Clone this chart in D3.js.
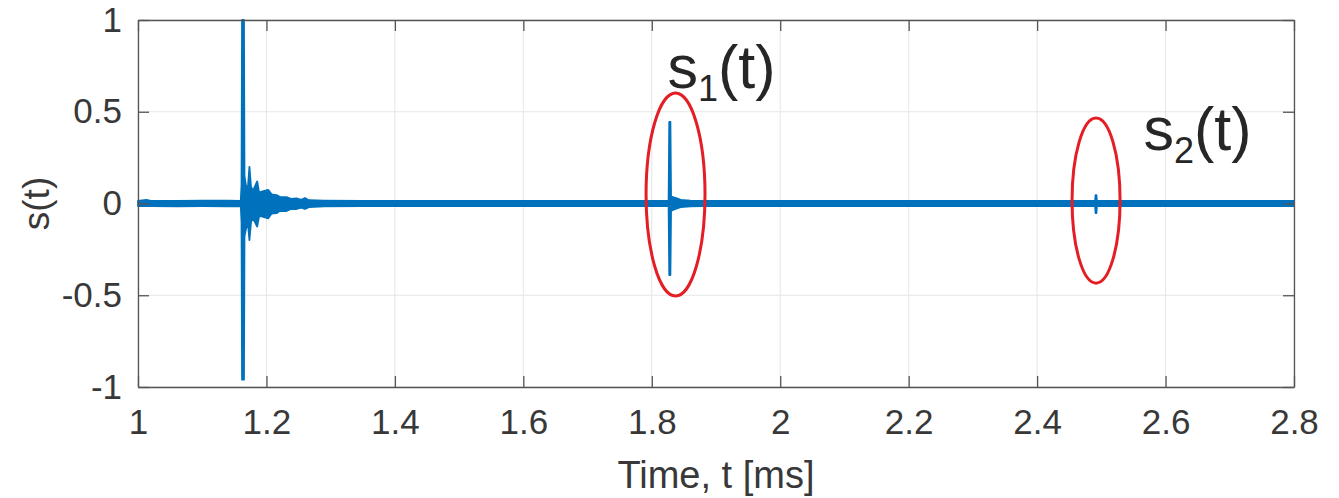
<!DOCTYPE html>
<html><head><meta charset="utf-8">
<script src="https://cdn.jsdelivr.net/npm/d3@7"></script>
<style>
html,body{margin:0;padding:0;background:#fff;}
svg{display:block;font-family:"Liberation Sans",Arial,Helvetica,sans-serif;}
</style></head>
<body><svg id="chart" width="1339" height="498"></svg>
<script>
// ---- data ----
const xTicks = [1, 1.2, 1.4, 1.6, 1.8, 2, 2.2, 2.4, 2.6, 2.8];
const xTickLabels = ["1","1.2","1.4","1.6","1.8","2","2.2","2.4","2.6","2.8"];
const yTicks = [-1, -0.5, 0, 0.5, 1];
const yTickLabels = ["-1","-0.5","0","0.5","1"];
// signal envelope: time (ms), upper and lower extent of s(t)
const sigT  = [1.000,1.013,1.020,1.060,1.100,1.140,1.1600,1.1612,1.1620,1.1650,1.1658,1.1680,1.1710,1.1735,1.1760,1.1790,1.1856,1.1885,1.1925,1.2027,1.2080,1.2157,1.2210,1.2313,1.2380,1.2469,1.2540,1.2600,1.2660,1.2900,1.3500,1.6000,1.8262,1.8272,1.8290,1.8300,1.8330,1.8380,1.8450,1.8600,1.8800,2.2000,2.4903,2.4910,2.4924,2.4931,2.8000];
const sigHi = [0.014,0.020,0.014,0.014,0.016,0.015,0.014,0.10,1.0,1.0,0.15,0.10,0.08,0.20,0.09,0.07,0.12,0.06,0.065,0.074,0.05,0.046,0.035,0.035,0.025,0.028,0.020,0.030,0.018,0.016,0.014,0.014,0.014,0.445,0.445,0.04,0.035,0.03,0.02,0.016,0.014,0.014,0.014,0.046,0.046,0.014,0.014];
const sigLo = [-0.014,-0.014,-0.014,-0.015,-0.014,-0.016,-0.014,-0.10,-0.96,-0.96,-0.18,-0.14,-0.10,-0.20,-0.10,-0.08,-0.126,-0.07,-0.07,-0.081,-0.055,-0.053,-0.04,-0.041,-0.03,-0.03,-0.022,-0.03,-0.02,-0.016,-0.014,-0.014,-0.014,-0.39,-0.39,-0.04,-0.035,-0.028,-0.02,-0.016,-0.014,-0.014,-0.014,-0.052,-0.052,-0.014,-0.014];
// annotations: ellipse centre (ms, value) and radii (ms, value)
const ellipseT  = [1.837, 2.4918];
const ellipseV  = [0.049, 0.016];
const ellipseRT = [0.0459, 0.0374];
const ellipseRV = [0.553, 0.45];
const labelNames = ["s", "s"];
const labelSubs  = ["1", "2"];
const labelT = [1.8245, 2.5655];
const labelV = [0.63, 0.29];

// ---- layout ----
const svg = d3.select("#chart");
const L = 138, R = 1294, T = 20, B = 387;
const x = d3.scaleLinear().domain([1, 2.8]).range([L, R]);
const y = d3.scaleLinear().domain([-1, 1]).range([B, T]);
const blue = "#0072BD", axisCol = "#555", textCol = "#383838", gridCol = "#e6e6e6";
const tickLen = 11;

// grid
svg.append("g").selectAll("line").data(xTicks).join("line")
  .attr("x1", d => x(d)).attr("x2", d => x(d)).attr("y1", T).attr("y2", B)
  .attr("stroke", gridCol).attr("stroke-width", 1);
svg.append("g").selectAll("line").data(yTicks).join("line")
  .attr("x1", L).attr("x2", R).attr("y1", d => y(d)).attr("y2", d => y(d))
  .attr("stroke", gridCol).attr("stroke-width", 1);

// signal
const sig = sigT.map((t, i) => ({t, hi: sigHi[i], lo: sigLo[i]}));
const area = d3.area().x(d => x(d.t)).y0(d => y(d.lo)).y1(d => y(d.hi));
svg.append("path").datum(sig).attr("d", area)
  .attr("fill", blue).attr("stroke", blue).attr("stroke-width", 1.8).attr("stroke-linejoin", "round");

// axes box & ticks
const xAxisB = d3.axisBottom(x).tickValues(xTicks).tickFormat((d, i) => xTickLabels[i]).tickSizeInner(-tickLen).tickSizeOuter(0).tickPadding(22);
const xAxisT = d3.axisTop(x).tickValues(xTicks).tickFormat("").tickSizeInner(-tickLen).tickSizeOuter(0);
const yAxisL = d3.axisLeft(y).tickValues(yTicks).tickFormat((d, i) => yTickLabels[i]).tickSizeInner(-tickLen).tickSizeOuter(0).tickPadding(16);
const yAxisR = d3.axisRight(y).tickValues(yTicks).tickFormat("").tickSizeInner(-tickLen).tickSizeOuter(0);
function styleAxis(g) {
  g.select(".domain").attr("stroke", axisCol).attr("stroke-width", 1.3);
  g.selectAll(".tick line").attr("stroke", axisCol).attr("stroke-width", 1.3);
  g.selectAll(".tick text").attr("fill", textCol).attr("font-size", 35).attr("font-family", "'Liberation Sans',Arial,Helvetica,sans-serif");
}
svg.append("g").attr("transform", `translate(0,${B})`).call(xAxisB).call(styleAxis);
svg.append("g").attr("transform", `translate(0,${T})`).call(xAxisT).call(styleAxis);
svg.append("g").attr("transform", `translate(${L},0)`).call(yAxisL).call(styleAxis);
svg.append("g").attr("transform", `translate(${R},0)`).call(yAxisR).call(styleAxis);

// axis titles
svg.append("text").attr("x", (L + R) / 2).attr("y", 488).attr("text-anchor", "middle")
  .attr("font-size", 38).attr("fill", textCol).text("Time, t [ms]");
svg.append("text").attr("transform", `translate(49,${(T + B) / 2}) rotate(-90)`).attr("text-anchor", "middle")
  .attr("font-size", 37).attr("fill", textCol).text("s(t)");

// ellipses
svg.append("g").selectAll("ellipse").data(ellipseT).join("ellipse")
  .attr("cx", d => x(d)).attr("cy", (d, i) => y(ellipseV[i]))
  .attr("rx", (d, i) => x(d + ellipseRT[i]) - x(d))
  .attr("ry", (d, i) => y(0) - y(ellipseRV[i]))
  .attr("fill", "none").attr("stroke", "#e31e24").attr("stroke-width", 3);

// labels s1(t), s2(t)
labelT.forEach((t, i) => {
  const tx = svg.append("text").attr("x", x(t)).attr("y", y(labelV[i]))
    .attr("font-size", 61).attr("fill", "#262626");
  tx.append("tspan").text(labelNames[i]);
  tx.append("tspan").attr("font-size", 36).attr("dy", 13).text(labelSubs[i]);
  tx.append("tspan").attr("dy", -13).text("(t)");
});
</script></body></html>
